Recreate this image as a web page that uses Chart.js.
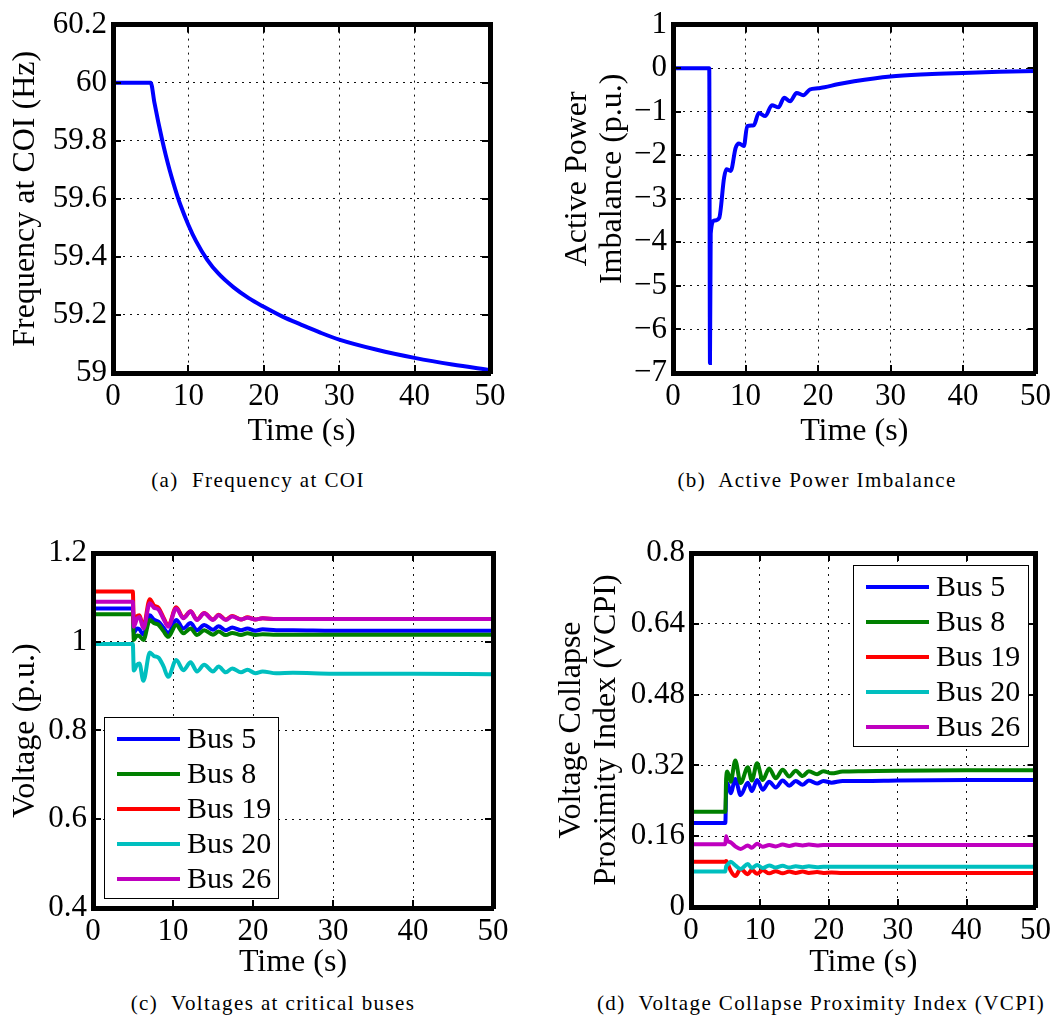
<!DOCTYPE html>
<html>
<head>
<meta charset="utf-8">
<script src="https://cdn.jsdelivr.net/npm/chart.js@4.4.1/dist/chart.umd.min.js"></script>
<style>
    body { margin: 0; background: #fff; width: 1056px; height: 1021px; position: relative; overflow: hidden; }
    canvas { position: absolute; }
    .caption {
        position: absolute; width: 600px; text-align: center;
        font-family: 'Liberation Serif', 'Times New Roman', serif;
        font-size: 21px; letter-spacing: 1.4px; line-height: 22px;
        white-space: pre; color: #000;
    }
</style>
</head>
<body>
<canvas id="freqChart" width="520" height="460" style="left:0px;top:0px"></canvas>
<canvas id="powerChart" width="528" height="460" style="left:528px;top:0px"></canvas>
<canvas id="voltChart" width="520" height="470" style="left:0px;top:520px"></canvas>
<canvas id="vcpiChart" width="528" height="470" style="left:528px;top:520px"></canvas>

<div class="caption" style="left:-42px;top:469px">(a)  Frequency at COI</div>
<div class="caption" style="left:517px;top:469px">(b)  Active Power Imbalance</div>
<div class="caption" style="left:-27px;top:992px">(c)  Voltages at critical buses</div>
<div class="caption" style="left:521px;top:992px">(d)  Voltage Collapse Proximity Index (VCPI)</div>

<script>
// ---- data ----
const timeTicks = [0, 10, 20, 30, 40, 50];
const freqTicks = [59, 59.2, 59.4, 59.6, 59.8, 60, 60.2];
const powerTicks = [-7, -6, -5, -4, -3, -2, -1, 0, 1];
const voltTicks = [0.4, 0.6, 0.8, 1, 1.2];
const vcpiTicks = [0, 0.16, 0.32, 0.48, 0.64, 0.8];

const busNames = ['Bus 5', 'Bus 8', 'Bus 19', 'Bus 20', 'Bus 26'];

// (a) frequency at COI
const freqTime = [0, 5, 5.5, 6, 6.5, 7, 7.5, 8, 8.5, 9, 10, 11, 12.5, 14, 16, 18, 20, 22.5, 25, 27.5, 30, 35, 40, 45, 50];
const freqValue = [60, 60, 59.93, 59.865, 59.805, 59.75, 59.70, 59.655, 59.613, 59.575, 59.51, 59.455, 59.39, 59.342,
    59.295, 59.258, 59.228, 59.194, 59.166, 59.139, 59.115, 59.08, 59.052, 59.029, 59.01];

// (b) active power imbalance
const powerTime = [0, 5.0, 5.1, 5.2, 5.68, 6.37, 7.05, 7.37, 7.96, 8.64, 9.1, 9.78, 10.23, 11.15, 11.83, 12.74,
    13.64, 14.55, 15.33, 16.15, 17.05, 17.97, 18.88, 20.0, 20.9, 22.7, 25, 30, 35, 40, 45, 50];
const powerValue = [0, 0, -6.77, -3.80, -3.50, -3.44, -2.51, -2.32, -2.36, -1.83, -1.73, -1.79, -1.33, -1.31, -1.03, -1.10,
    -0.85, -0.90, -0.68, -0.76, -0.57, -0.62, -0.49, -0.46, -0.44, -0.37, -0.30, -0.19, -0.14, -0.11, -0.085, -0.065];

// (c) voltages at critical buses
const voltTime = [0, 4.98, 5.1, 5.5, 5.8, 6.3, 7.1, 7.6, 8.2, 8.8, 9.4, 10.4, 11.3, 12.2, 13.0,
    13.9, 15.0, 15.7, 16.6, 17.4, 18.5, 19.3, 20.3, 21.2, 22.9, 25, 30, 40, 50];
const voltBus5 = [1.075, 1.075, 1.020, 1.030, 1.028, 1.016, 1.060, 1.050, 1.045, 1.032, 1.019, 1.049, 1.030, 1.042, 1.026,
    1.038, 1.027, 1.035, 1.026, 1.032, 1.026, 1.030, 1.025, 1.028, 1.026, 1.026, 1.025, 1.025, 1.025];
const voltBus8 = [1.062, 1.062, 1.004, 1.014, 1.013, 1.004, 1.049, 1.042, 1.038, 1.024, 1.011, 1.038, 1.019, 1.030, 1.015,
    1.026, 1.016, 1.023, 1.015, 1.020, 1.015, 1.019, 1.015, 1.017, 1.016, 1.016, 1.016, 1.016, 1.016];
const voltBus19 = [1.113, 1.113, 1.040, 1.058, 1.060, 1.034, 1.096, 1.082, 1.076, 1.055, 1.036, 1.078, 1.054, 1.069, 1.050,
    1.065, 1.050, 1.061, 1.050, 1.058, 1.050, 1.055, 1.050, 1.053, 1.051, 1.051, 1.051, 1.051, 1.051];
const voltBus20 = [0.995, 0.995, 0.935, 0.948, 0.951, 0.912, 0.976, 0.968, 0.964, 0.945, 0.921, 0.959, 0.936, 0.954, 0.933,
    0.948, 0.933, 0.944, 0.931, 0.940, 0.931, 0.937, 0.929, 0.933, 0.929, 0.930, 0.928, 0.928, 0.927];
const voltBus26 = [1.090, 1.090, 1.034, 1.052, 1.056, 1.030, 1.087, 1.077, 1.072, 1.052, 1.034, 1.075, 1.053, 1.068, 1.049,
    1.064, 1.049, 1.060, 1.049, 1.057, 1.050, 1.054, 1.050, 1.053, 1.051, 1.051, 1.051, 1.051, 1.051];

// (d) VCPI
const vcpiTime = [0, 4.98, 5.1, 5.28, 5.76, 6.43, 7.2, 8.25, 8.83, 9.59, 10.41, 11.35, 12.3, 13.3, 14.25,
    15.2, 16.2, 17.1, 18.3, 19.2, 20.4, 22, 25, 30, 40, 50];
const vcpiBus5 = [0.190, 0.190, 0.260, 0.280, 0.257, 0.289, 0.253, 0.281, 0.262, 0.287, 0.265, 0.283, 0.270, 0.286, 0.274,
    0.285, 0.276, 0.286, 0.279, 0.285, 0.281, 0.285, 0.285, 0.286, 0.287, 0.287];
const vcpiBus8 = [0.215, 0.215, 0.290, 0.306, 0.283, 0.331, 0.280, 0.316, 0.286, 0.325, 0.287, 0.313, 0.291, 0.310, 0.295,
    0.308, 0.296, 0.307, 0.300, 0.307, 0.302, 0.306, 0.307, 0.308, 0.309, 0.309];
const vcpiBus19 = [0.102, 0.102, 0.104, 0.100, 0.082, 0.070, 0.086, 0.074, 0.084, 0.075, 0.083, 0.076, 0.081, 0.076, 0.080,
    0.077, 0.080, 0.077, 0.079, 0.077, 0.078, 0.077, 0.077, 0.077, 0.077, 0.077];
const vcpiBus20 = [0.080, 0.080, 0.092, 0.095, 0.102, 0.094, 0.086, 0.097, 0.088, 0.095, 0.088, 0.094, 0.089, 0.093, 0.089,
    0.092, 0.090, 0.092, 0.090, 0.091, 0.091, 0.091, 0.091, 0.091, 0.091, 0.091];
const vcpiBus26 = [0.142, 0.142, 0.160, 0.150, 0.146, 0.137, 0.131, 0.139, 0.134, 0.143, 0.136, 0.140, 0.137, 0.141, 0.138,
    0.141, 0.139, 0.141, 0.139, 0.140, 0.140, 0.140, 0.140, 0.140, 0.140, 0.140];

// ---- styling ----
const busColors = ['#0000ff', '#008000', '#ff0000', '#00bfbf', '#bf00bf'];
const serif = "'Liberation Serif', 'Times New Roman', serif";
const frame = { display: true, width: 5, color: '#000', z: 1 };

Chart.defaults.font.family = serif;
Chart.defaults.color = '#000';
Chart.defaults.animation = false;

function points(xs, ys) {
    return xs.map((x, i) => ({ x: x, y: ys[i] }));
}

function minusSign(v) {
    return v < 0 ? '\u2212' + Math.abs(v) : String(v);
}

// inward tick marks and a framed legend, drawn on top
const matlabBox = {
    id: 'matlabBox',
    afterDraw(chart, args, opts) {
        const ctx = chart.ctx;
        const a = chart.chartArea;
        const xs = chart.scales.x;
        const ys = chart.scales.y;
        ctx.save();
        ctx.fillStyle = '#000';
        xs.ticks.forEach(t => {
            const p = Math.round(xs.getPixelForValue(t.value));
            ctx.fillRect(p - 1, a.bottom - 8, 2, 8);
            ctx.fillRect(p - 1, a.top, 2, 8);
        });
        ys.ticks.forEach(t => {
            const p = Math.round(ys.getPixelForValue(t.value));
            ctx.fillRect(a.left, p - 1, 8, 2);
            ctx.fillRect(a.right - 8, p - 1, 8, 2);
        });

        if (opts && opts.legend) {
            const lg = opts.legend;
            ctx.fillStyle = '#fff';
            ctx.fillRect(lg.left, lg.top, lg.width, lg.height);
            ctx.lineWidth = 1;
            ctx.strokeStyle = '#000';
            ctx.strokeRect(lg.left + 0.5, lg.top + 0.5, lg.width, lg.height);
            ctx.font = '30px ' + serif;
            ctx.textBaseline = 'middle';
            ctx.textAlign = 'left';
            chart.data.datasets.forEach((ds, i) => {
                const y = lg.top + 22 + i * 35;
                ctx.strokeStyle = ds.borderColor;
                ctx.lineWidth = 4;
                ctx.beginPath();
                ctx.moveTo(lg.left + 13, y);
                ctx.lineTo(lg.left + 76, y);
                ctx.stroke();
                ctx.fillStyle = '#000';
                ctx.fillText(ds.label, lg.left + 83, y + 1);
            });
        }
        ctx.restore();
    }
};

function makeScales(cfg) {
    const yMin = cfg.yTicks[0];
    const yMax = cfg.yTicks[cfg.yTicks.length - 1];
    return {
        x: {
            type: 'linear',
            min: 0,
            max: 50,
            afterBuildTicks: s => { s.ticks = timeTicks.map(v => ({ value: v })); },
            afterFit: s => { s.height = cfg.xHeight; },
            ticks: { font: { size: 31 }, padding: 5, maxRotation: 0, autoSkip: false },
            grid: { color: '#111', lineWidth: 1, drawTicks: false },
            border: Object.assign({ dash: [2, 5] }, frame),
            title: {
                display: true, text: 'Time (s)',
                font: { size: 32, lineHeight: 1.1 },
                padding: { top: 0, bottom: cfg.xTitlePad }
            }
        },
        xTop: {
            type: 'linear', position: 'top', min: 0, max: 50,
            afterFit: s => { s.height = 0; },
            ticks: { display: false },
            grid: { display: false, drawTicks: false },
            border: frame
        },
        y: {
            type: 'linear',
            min: yMin,
            max: yMax,
            afterBuildTicks: s => { s.ticks = cfg.yTicks.map(v => ({ value: v })); },
            afterFit: s => { s.width = cfg.yWidth; },
            ticks: { font: { size: 31 }, padding: 6, autoSkip: false, callback: cfg.fmt },
            grid: { color: '#111', lineWidth: 1, drawTicks: false },
            border: Object.assign({ dash: [2, 5] }, frame),
            title: {
                display: true, text: cfg.yTitle,
                font: { size: 32, lineHeight: 1.1 },
                padding: { top: cfg.yTitlePad, bottom: 0 }
            }
        },
        yRight: {
            type: 'linear', position: 'right', min: yMin, max: yMax,
            afterFit: s => { s.width = 0; },
            ticks: { display: false },
            grid: { display: false, drawTicks: false },
            border: frame
        }
    };
}

function busDatasets(time, series) {
    return series.map((vals, i) => ({
        label: busNames[i],
        data: points(time, vals),
        borderColor: busColors[i],
        borderWidth: 4,
        pointRadius: 0,
        cubicInterpolationMode: 'monotone',
        order: series.length - i
    }));
}

function makeChart(id, datasets, pad, scaleCfg, legendBox) {
    const ctx = document.getElementById(id).getContext('2d');
    return new Chart(ctx, {
        type: 'line',
        data: { datasets: datasets },
        options: {
            responsive: false,
            animation: false,
            events: [],
            layout: { padding: { top: pad.top, right: pad.right, left: 0, bottom: 0 } },
            scales: makeScales(scaleCfg),
            plugins: {
                legend: { display: false },
                tooltip: { enabled: false },
                matlabBox: { legend: legendBox || null }
            }
        },
        plugins: [matlabBox]
    });
}

makeChart('freqChart', [{
    label: 'Frequency',
    data: points(freqTime, freqValue),
    borderColor: '#0000ff',
    borderWidth: 4,
    pointRadius: 0,
    cubicInterpolationMode: 'monotone'
}], { top: 22, right: 30 }, {
    yTicks: freqTicks, yWidth: 113, xHeight: 87, yTitlePad: 8, xTitlePad: 11,
    yTitle: 'Frequency at COI (Hz)',
    fmt: v => String(+v.toFixed(1))
});

// leading spaces lift the two-line label a little, as in the original
makeChart('powerChart', [{
    label: 'Power',
    data: points(powerTime, powerValue),
    borderColor: '#0000ff',
    borderWidth: 4,
    pointRadius: 0,
    cubicInterpolationMode: 'monotone'
}], { top: 22, right: 18 }, {
    yTicks: powerTicks, yWidth: 145, xHeight: 87, yTitlePad: 32, xTitlePad: 11,
    yTitle: ['     Active Power', '     Imbalance (p.u.)'],
    fmt: minusSign
});

makeChart('voltChart',
    busDatasets(voltTime, [voltBus5, voltBus8, voltBus19, voltBus20, voltBus26]),
    { top: 33, right: 27 }, {
        yTicks: voltTicks, yWidth: 93, xHeight: 82, yTitlePad: 8, xTitlePad: 10,
        yTitle: 'Voltage (p.u.)',
        fmt: v => String(+v.toFixed(1))
    },
    { left: 104, top: 197, width: 174, height: 181 });

makeChart('vcpiChart',
    busDatasets(vcpiTime, [vcpiBus5, vcpiBus8, vcpiBus19, vcpiBus20, vcpiBus26]),
    { top: 33, right: 18 }, {
        yTicks: vcpiTicks, yWidth: 163, xHeight: 83, yTitlePad: 26, xTitlePad: 10,
        yTitle: ['Voltage Collapse', 'Proximity Index (VCPI)'],
        fmt: v => String(+v.toFixed(2))
    },
    { left: 325, top: 45, width: 175, height: 181 });
</script>
</body>
</html>
